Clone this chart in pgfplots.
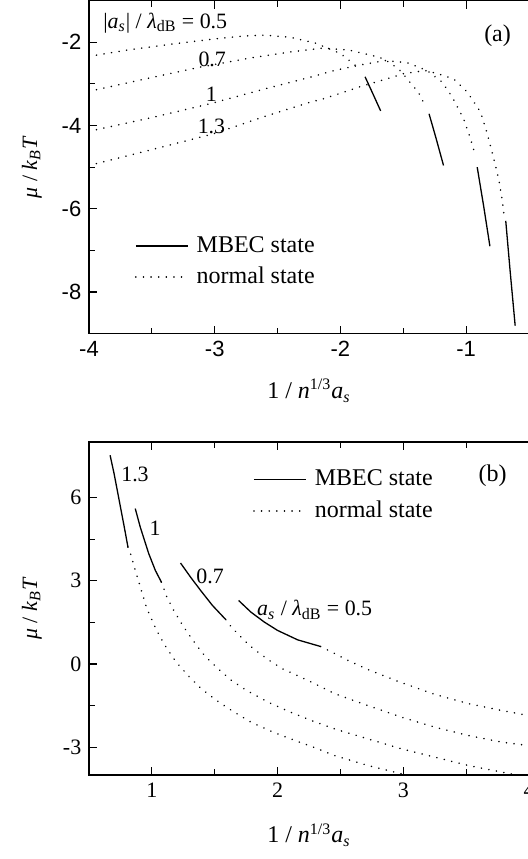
\documentclass[border=0pt,11pt]{standalone}
\usepackage{fontspec}
\setmainfont{Liberation Serif}
\setsansfont{Liberation Sans}
\usepackage{pgfplots}
\pgfplotsset{compat=1.18}

\newcommand{\asub}{\textit{a}\textsubscript{\textit{s}}}
\newcommand{\xlab}{1 / \textit{n}\textsuperscript{1/3}\asub}
\newcommand{\ylab}{\textit{μ} / \textit{k}\textsubscript{\textit{B}}\textit{T}}

\tikzset{
  mbec/.style={black, line width=0.65pt},
  normal/.style={black, line width=0.85pt, line cap=round, dash pattern=on 0.01pt off 3.8pt},
}

\pgfplotsset{
  panel/.style={
    scale only axis, width=220pt, height=166.5pt, anchor=south west,
    axis line style={line width=0.6pt},
    every tick/.style={black, line width=0.6pt},
    tick align=inside, major tick length=4pt, minor tick length=3pt,
    minor x tick num=1, minor y tick num=1,
    ytick pos=left, xtick pos=both,
    /pgf/number format/assume math mode=true,
    tick label style={font=\fontsize{11}{13}\selectfont},
    label style={font=\fontsize{12}{14}\selectfont},
    every axis y label/.style={at={(axis description cs:-0.13,0.5)}, rotate=90, anchor=center},
    xlabel style={anchor=base},
    legend cell align=left,
    legend image code/.code={\draw[##1] (0pt,0pt) -- (26pt,0pt);},
    legend style={draw=none, fill=none, anchor=north west, inner sep=0pt, outer sep=0pt,
      row sep=0pt, column sep=4pt, font=\fontsize{12}{14}\selectfont,
      nodes={inner sep=0pt, minimum height=15.5pt}},
  },
}

\begin{document}
\begin{tikzpicture}
\path[use as bounding box] (0,0) rectangle (264pt,429.5pt);

% ---- panel (a)
\begin{axis}[panel, at={(44.5pt,262.7pt)},
  xmin=-4, xmax=-0.5, ymin=-9, ymax=-1,
  xtick={-4,-3,-2,-1}, ytick={-8,-6,-4,-2},
  tick label style={font=\sffamily\fontsize{11}{13}\selectfont},
  xlabel={\xlab}, ylabel={\ylab},
  xlabel style={at={(axis description cs:0.5,-0.195)}},
  legend style={at={(0.1045,0.3095)}}]
\addplot[mbec] coordinates {(-1.804,-2.83) (-1.74,-3.25) (-1.68,-3.65)};
\addlegendentry{MBEC state}
\addplot[normal] coordinates {(-4.00,-2.34) (-3.70,-2.19) (-3.33,-2.04) (-3.00,-1.92) (-2.77,-1.85)
  (-2.60,-1.83) (-2.40,-1.88) (-2.20,-2.02) (-2.00,-2.27) (-1.90,-2.51) (-1.84,-2.66)};
\addlegendentry{normal state}
\addplot[normal, forget plot] coordinates {(-4.00,-3.18) (-3.55,-2.88) (-3.12,-2.60) (-2.70,-2.37)
  (-2.39,-2.23) (-2.14,-2.14) (-1.93,-2.19) (-1.69,-2.36) (-1.60,-2.50) (-1.525,-2.68)
  (-1.47,-2.88) (-1.38,-3.20) (-1.32,-3.56)};
\addplot[mbec, forget plot] coordinates {(-1.295,-3.72) (-1.24,-4.30) (-1.18,-4.96)};
\addplot[normal, forget plot] coordinates {(-4.00,-4.14) (-3.50,-3.81) (-3.04,-3.48) (-2.60,-3.12)
  (-2.24,-2.84) (-2.05,-2.68) (-1.83,-2.54) (-1.645,-2.44) (-1.47,-2.49) (-1.31,-2.68)
  (-1.19,-2.96) (-1.11,-3.32) (-1.02,-3.84) (-0.965,-4.32) (-0.93,-4.69)};
\addplot[mbec, forget plot] coordinates {(-0.912,-5.00) (-0.86,-5.95) (-0.811,-6.90)};
\addplot[normal, forget plot] coordinates {(-4.00,-4.96) (-3.50,-4.58) (-3.01,-4.20) (-2.60,-3.78)
  (-2.24,-3.44) (-2.125,-3.35) (-1.845,-3.07) (-1.565,-2.82) (-1.51,-2.76) (-1.325,-2.68)
  (-1.22,-2.76) (-1.10,-2.88) (-0.99,-3.20) (-0.885,-3.68) (-0.832,-4.20) (-0.78,-4.80)
  (-0.74,-5.30) (-0.712,-5.81) (-0.70,-6.12)};
\addplot[mbec, forget plot] coordinates {(-0.685,-6.29) (-0.65,-7.50) (-0.61,-8.81)};
\node[anchor=base west, inner sep=0pt] at (-3.889,-1.668) {|\asub| / \textit{λ}\textsubscript{dB} = 0.5};
\node[anchor=base] at (-3.02,-2.59) {0.7};
\node[anchor=base] at (-3.026,-3.433) {1};
\node[anchor=base] at (-3.026,-4.19) {1.3};
\node[anchor=base, font=\fontsize{12}{14}\selectfont] at (-0.75,-1.974) {(a)};
\end{axis}

% ---- panel (b)
\begin{axis}[panel, at={(44.5pt,42pt)},
  xmin=0.5, xmax=4, ymin=-4, ymax=8,
  xtick={1,2,3,4}, ytick={-3,0,3,6},
  xlabel={\xlab}, ylabel={\ylab},
  xlabel style={at={(axis description cs:0.5,-0.204)}},
  legend style={at={(0.373,0.9335)}}]
\addplot[mbec] coordinates {(0.668,7.52) (0.70,6.85) (0.74,5.90) (0.78,4.95) (0.81,4.21)};
\addlegendentry{MBEC state}
\addplot[normal] coordinates {(0.81,4.21) (0.83,3.98) (0.87,3.35) (0.91,2.75) (0.96,2.00) (1.02,1.39)
  (1.065,0.98) (1.113,0.61) (1.193,0.07) (1.287,-0.41) (1.393,-0.89) (1.513,-1.31) (1.633,-1.67)
  (1.79,-2.10) (1.967,-2.46) (2.14,-2.76) (2.30,-3.02) (2.454,-3.30) (2.72,-3.66) (2.988,-3.96) (3.02,-4.00)};
\addlegendentry{normal state}
\addplot[mbec, forget plot] coordinates {(0.868,5.60) (0.908,4.93) (0.975,3.98) (1.028,3.37) (1.076,2.95)};
\addplot[normal, forget plot] coordinates {(1.076,2.95) (1.12,2.41) (1.174,1.93) (1.246,1.39) (1.29,1.09)
  (1.366,0.61) (1.42,0.30) (1.526,-0.17) (1.633,-0.59) (1.753,-0.95) (1.927,-1.38) (2.10,-1.73)
  (2.26,-2.02) (2.454,-2.34) (2.72,-2.70) (2.988,-3.06) (3.254,-3.36) (3.52,-3.66) (3.788,-3.90) (3.90,-4.00)};
\addplot[mbec, forget plot] coordinates {(1.228,3.64) (1.308,3.13) (1.388,2.65) (1.482,2.11) (1.588,1.60)};
\addplot[normal, forget plot] coordinates {(1.588,1.60) (1.633,1.33) (1.687,1.07) (1.74,0.83) (1.80,0.58)
  (1.86,0.37) (1.96,0.05) (2.05,-0.20) (2.14,-0.38) (2.26,-0.63) (2.454,-1.07) (2.72,-1.50)
  (2.988,-1.92) (3.254,-2.28) (3.52,-2.58) (3.788,-2.82) (4.00,-2.94)};
\addplot[mbec, forget plot] coordinates {(1.69,2.29) (1.788,1.87) (1.895,1.51) (2.00,1.21) (2.16,0.87) (2.343,0.63)};
\addplot[normal, forget plot] coordinates {(2.343,0.63) (2.40,0.50) (2.56,0.13) (2.72,-0.20) (2.96,-0.63)
  (3.254,-1.10) (3.52,-1.43) (3.788,-1.68) (4.00,-1.86)};
\node[anchor=base] at (0.866,6.559) {1.3};
\node[anchor=base] at (1.025,4.638) {1};
\node[anchor=base] at (1.463,2.897) {0.7};
\node[anchor=base west, inner sep=0pt] at (1.834,1.730) {\asub{} / \textit{λ}\textsubscript{dB} = 0.5};
\node[anchor=base, font=\fontsize{12}{14}\selectfont] at (3.71,6.56) {(b)};
\end{axis}
\end{tikzpicture}
\end{document}
